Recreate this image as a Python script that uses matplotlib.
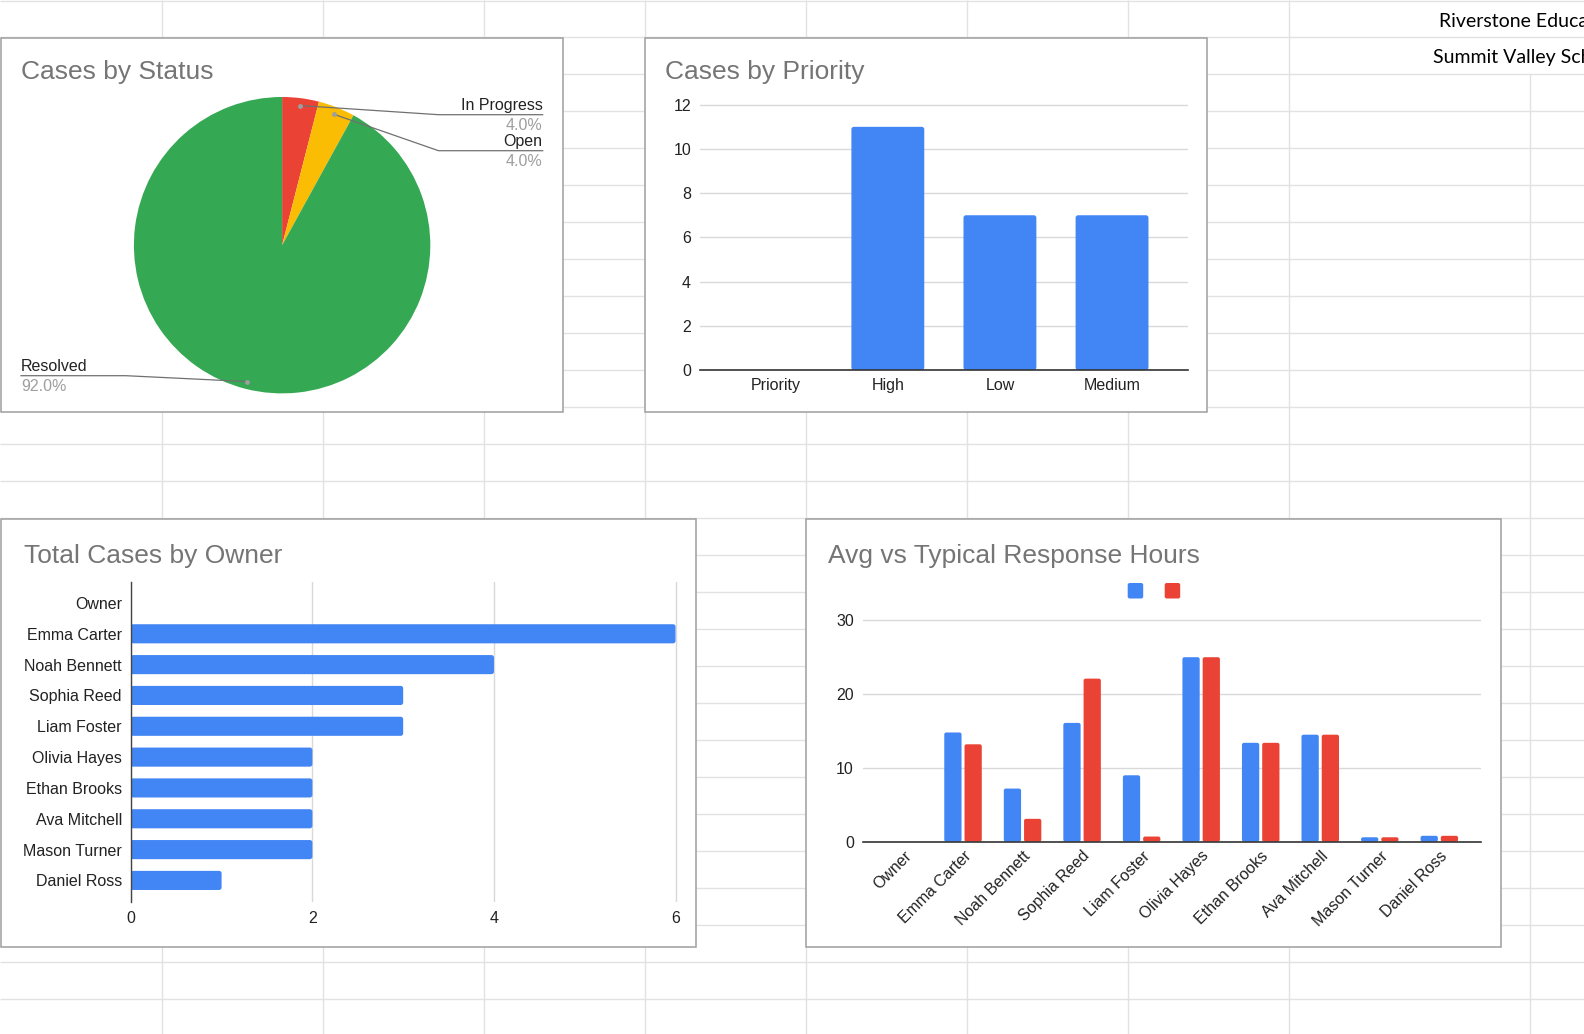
"""
Sheets dashboard: case status / priority / owner / response-hours charts
laid over a spreadsheet grid.
"""

import matplotlib
matplotlib.use("Agg")

import matplotlib.pyplot as plt
import matplotlib.transforms as mtransforms
import numpy as np
from matplotlib.patches import FancyBboxPatch, Rectangle

# ──────────────────────────────────────────────
# Data
# ──────────────────────────────────────────────

STATUS_LABELS = ["In Progress", "Open", "Resolved"]
STATUS_COUNTS = [1, 1, 23]

PRIORITY_LABELS = ["Priority", "High", "Low", "Medium"]
PRIORITY_COUNTS = [0, 11, 7, 7]

OWNERS = ["Owner", "Emma Carter", "Noah Bennett", "Sophia Reed", "Liam Foster",
          "Olivia Hayes", "Ethan Brooks", "Ava Mitchell", "Mason Turner", "Daniel Ross"]
OWNER_CASES = [0, 6, 4, 3, 3, 2, 2, 2, 2, 1]
AVG_HOURS = [0, 14.8, 7.2, 16.1, 9.0, 25.0, 13.4, 14.5, 0.6, 0.8]
TYPICAL_HOURS = [0, 13.2, 3.1, 22.1, 0.7, 25.0, 13.4, 14.5, 0.6, 0.8]

SHEET_TEXT = ["Riverstone Education", "Summit Valley School"]

# ──────────────────────────────────────────────
# Style / layout
# ──────────────────────────────────────────────

W, H = 1584, 1034
BLUE, RED, YELLOW, GREEN = "#4285F4", "#EA4335", "#FBBC04", "#34A853"
TITLE_CLR = "#757575"
TEXT_CLR = "#222222"
GRID_CLR = "#d9d9d9"
SHEET_GRID = "#e2e2e2"
FONT = "Liberation Sans"
FS = 11.5
TITLE_FS = 19

plt.rcParams["font.family"] = FONT


def px_axes(fig, x0, y0, x1, y1):
    """Axes placed by pixel box (y measured from top)."""
    ax = fig.add_axes([x0 / W, 1 - y1 / H, (x1 - x0) / W, (y1 - y0) / H])
    ax.patch.set_alpha(0)
    return ax


def round_bars(ax, bars, radius=2.5):
    """Swap plain bar rectangles for slightly rounded ones (Sheets style)."""
    x0, x1 = ax.get_xlim()
    y0, y1 = ax.get_ylim()
    xpp = abs(x1 - x0) / ax.bbox.width
    ypp = abs(y1 - y0) / ax.bbox.height
    for b in bars:
        b.set_visible(False)
        if b.get_width() == 0 or b.get_height() == 0:
            continue
        ax.add_patch(FancyBboxPatch(
            (b.get_x(), b.get_y()), b.get_width(), b.get_height(),
            boxstyle=f"round,pad=0,rounding_size={radius * xpp}",
            mutation_aspect=ypp / xpp, facecolor=b.get_facecolor(),
            edgecolor="none", zorder=b.get_zorder()))


fig = plt.figure(figsize=(W / 100, H / 100), dpi=100)

# spreadsheet background
bg = fig.add_axes([0, 0, 1, 1])
bg.set_xlim(0, W)
bg.set_ylim(H, 0)
bg.axis("off")

col_x = [161.5, 322.6, 483.5, 644.5, 806, 967, 1128, 1288.5]
row_y = [0.5] + [37.3 + 37 * k for k in range(27)]
bg.vlines(col_x, 0, H, color=SHEET_GRID, lw=1.0, zorder=1)
bg.vlines([1530], 74.3, H, color=SHEET_GRID, lw=1.0, zorder=1)
bg.hlines(row_y, 0, W, color=SHEET_GRID, lw=1.0, zorder=1)

# cell text overflows past the right edge, as in the sheet view
bg.text(1438.7, 26.7, SHEET_TEXT[0], fontsize=14, family="Lato", color="#000000", va="baseline")
bg.text(1432.7, 63.3, SHEET_TEXT[1], fontsize=14, family="Lato", color="#000000", va="baseline")

boxes = [(1, 38.3, 562.6, 412.2), (644.5, 38.3, 1206.6, 411.7),
         (1.3, 519, 696.4, 946.5), (806, 519, 1501, 946.5)]
for x0, y0, x1, y1 in boxes:
    bg.add_patch(Rectangle((x0, y0), x1 - x0, y1 - y0, facecolor="white",
                           edgecolor="#9e9e9e", lw=1.1, zorder=3))

titles = [(21, 78.7, "Cases by Status"), (665, 79, "Cases by Priority"),
          (23.7, 563.3, "Total Cases by Owner"), (828, 562.7, "Avg vs Typical Response Hours")]
for x, y, t in titles:
    bg.text(x, y, t, fontsize=TITLE_FS, color=TITLE_CLR, va="baseline", zorder=4)

# ──────────────────────────────────────────────
# Cases by Status (pie)
# ──────────────────────────────────────────────

ax1 = px_axes(fig, *boxes[0])
cx, cy, r = 282.1, H - 245.2, 148.2
wedges, _ = ax1.pie(STATUS_COUNTS, colors=[RED, YELLOW, GREEN], startangle=90,
                    counterclock=False, center=(cx, cy), radius=r,
                    wedgeprops=dict(linewidth=0))
ax1.set_xlim(boxes[0][0], boxes[0][2])
ax1.set_ylim(H - boxes[0][3], H - boxes[0][1])
ax1.set_aspect("auto")
ax1.axis("off")

# (elbow x, line y, end x) in pixels from the top
label_pos = [(438.5, 114.7, 542.7), (438.5, 150.7, 542.7), (126, 375.7, 21)]
total = sum(STATUS_COUNTS)
for w, name, n, (ex, ly, end) in zip(wedges, STATUS_LABELS, STATUS_COUNTS, label_pos):
    mid = np.deg2rad((w.theta1 + w.theta2) / 2)
    dx, dy = cx + 0.95 * r * np.cos(mid), cy + 0.95 * r * np.sin(mid)
    ax1.plot([dx, ex, end], [dy, H - ly, H - ly], color="#707070", lw=0.9)
    ax1.plot(dx, dy, "o", ms=3.5, color="#9e9e9e", mec="none")
    ha = "right" if end > ex else "left"
    ax1.text(end, H - ly + 4.7, name, ha=ha, va="baseline", fontsize=FS, color=TEXT_CLR)
    ax1.text(end, H - ly - 15.3, f"{n / total * 100:.1f}%", ha=ha, va="baseline",
             fontsize=FS, color="#9e9e9e")

# ──────────────────────────────────────────────
# Cases by Priority (column)
# ──────────────────────────────────────────────

ax2 = px_axes(fig, 699.5, 101.4, 1187.7, 370)
x = np.arange(len(PRIORITY_LABELS))
bars2 = ax2.bar(x, PRIORITY_COUNTS, width=0.65, color=BLUE, zorder=3)
ax2.set_xlim(-0.68, 3.675)
ax2.set_ylim(0, 12.15)
ax2.set_yticks(range(0, 13, 2))
ax2.set_xticks(x, PRIORITY_LABELS)
ax2.yaxis.grid(True, color=GRID_CLR, lw=1.0)
ax2.set_axisbelow(True)
for s in ["top", "right", "left"]:
    ax2.spines[s].set_visible(False)
ax2.spines["bottom"].set_color("#333333")
ax2.spines["bottom"].set_linewidth(1.2)
ax2.spines["bottom"].set_zorder(4)
ax2.tick_params(axis="both", length=0, labelsize=FS, colors=TEXT_CLR)
ax2.tick_params(axis="y", pad=6.1)
ax2.tick_params(axis="x", pad=5.8)
round_bars(ax2, bars2)

# ──────────────────────────────────────────────
# Total Cases by Owner (horizontal bar)
# ──────────────────────────────────────────────

ax3 = px_axes(fig, 130.8, 582, 681, 901.7)
y = np.arange(len(OWNERS))
bars3 = ax3.barh(y, OWNER_CASES, height=0.62, color=BLUE, zorder=3)
ax3.set_xlim(0, 6.06)
ax3.set_ylim(9.69, -0.68)
ax3.set_xticks([0, 2, 4, 6])
ax3.set_yticks(y, OWNERS)
ax3.xaxis.grid(True, color=GRID_CLR, lw=1.0)
ax3.set_axisbelow(True)
for s in ["top", "right", "bottom"]:
    ax3.spines[s].set_visible(False)
ax3.spines["left"].set_color("#444444")
ax3.spines["left"].set_linewidth(1.0)
ax3.spines["left"].set_zorder(4)
ax3.tick_params(axis="both", length=0, labelsize=FS, colors=TEXT_CLR)
ax3.tick_params(axis="y", pad=6.4)
ax3.tick_params(axis="x", pad=6.5)
round_bars(ax3, bars3)

# ──────────────────────────────────────────────
# Avg vs Typical Response Hours (grouped column)
# ──────────────────────────────────────────────

ax4 = px_axes(fig, 863, 618.1, 1481, 841.7)
g = np.arange(len(OWNERS))
bars4a = ax4.bar(g - 0.17, AVG_HOURS, width=0.29, color=BLUE, zorder=3)
bars4b = ax4.bar(g + 0.17, TYPICAL_HOURS, width=0.29, color=RED, zorder=3)
ax4.set_xlim(-0.68, 9.70)
ax4.set_ylim(0, 30.3)
ax4.set_yticks([0, 10, 20, 30])
ax4.set_xticks(g, OWNERS, rotation=45, ha="right", va="center", rotation_mode="anchor")
ax4.yaxis.grid(True, color=GRID_CLR, lw=1.0)
ax4.set_axisbelow(True)
for s in ["top", "right", "left"]:
    ax4.spines[s].set_visible(False)
ax4.spines["bottom"].set_color("#333333")
ax4.spines["bottom"].set_linewidth(1.2)
ax4.spines["bottom"].set_zorder(4)
ax4.tick_params(axis="both", length=0, labelsize=FS, colors=TEXT_CLR)
ax4.tick_params(axis="y", pad=6.5)
ax4.tick_params(axis="x", pad=8.6)
shift = mtransforms.ScaledTranslation(5.5 / 100, 0, fig.dpi_scale_trans)
for lab in ax4.get_xticklabels():
    lab.set_transform(lab.get_transform() + shift)
round_bars(ax4, bars4a, radius=2)
round_bars(ax4, bars4b, radius=2)

# legend swatches (series have no names)
for sx, c in [(1127.7, BLUE), (1164.7, RED)]:
    bg.add_patch(FancyBboxPatch((sx, 583), 15.5, 15.5, boxstyle="round,pad=0,rounding_size=2",
                                facecolor=c, edgecolor="none", zorder=5))

fig.savefig("out.png", dpi=100)
